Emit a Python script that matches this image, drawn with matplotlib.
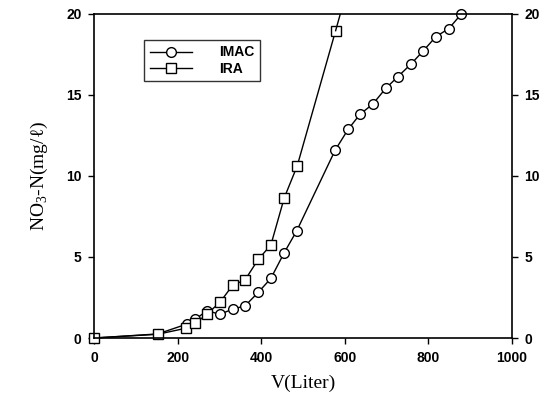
import matplotlib
matplotlib.use('Agg')
import matplotlib.pyplot as plt

# data
v_imac = [0, 152, 222, 242, 270, 301, 332, 361, 393, 423, 455, 485,
          577, 608, 636, 667, 698, 727, 758, 788, 818, 849, 879]
n_imac = [0, 0.25, 0.86, 1.15, 1.69, 1.46, 1.79, 1.98, 2.82, 3.68, 5.27, 6.62,
          11.6, 12.88, 13.8, 14.44, 15.41, 16.13, 16.9, 17.73, 18.6, 19.1, 20.0]

v_ira = [0, 152, 219, 242, 270, 301, 332, 361, 393, 423, 455, 486, 578, 600]
n_ira = [0, 0.23, 0.6, 0.9, 1.48, 2.2, 3.27, 3.58, 4.86, 5.74, 8.65, 10.62, 18.97, 21.0]

xticks = [0, 200, 400, 600, 800, 1000]
yticks = [0, 5, 10, 15, 20]

plt.rcParams['mathtext.fontset'] = 'custom'
plt.rcParams['mathtext.rm'] = 'Liberation Serif'

fig = plt.figure(figsize=(5.54, 4.0), dpi=100)
ax = fig.add_axes([0.170, 0.155, 0.754, 0.810])

mk = dict(color='black', lw=1.0, mfc='white', mec='black', mew=1.0, ms=7, clip_on=False)
ax.plot(v_imac, n_imac, marker='o', label='IMAC', **mk)
ax.plot(v_ira[:-1], n_ira[:-1], marker='s', label='IRA', **mk)
# IRA line keeps going above the frame
ax.plot(v_ira[-2:], n_ira[-2:], color='black', lw=1.0, clip_on=True)

ax.set_xlim(0, 1000)
ax.set_ylim(0, 20)
ax.set_xticks(xticks)
ax.set_yticks(yticks)

ax.tick_params(direction='out', length=4, width=1, top=False, right=True,
               labelright=True, labelsize=10, pad=5)
for lab in ax.get_xticklabels():
    lab.set_fontfamily('Liberation Sans')
    lab.set_fontweight('bold')
for t in ax.yaxis.get_major_ticks():
    for lab in (t.label1, t.label2):
        lab.set_fontfamily('Liberation Sans')
        lab.set_fontweight('bold')

for s in ax.spines.values():
    s.set_linewidth(1.2)

lab_font = ['Liberation Serif', 'DejaVu Serif']
ax.set_xlabel('V(Liter)', fontsize=14, family=lab_font, labelpad=7)
ax.set_ylabel(r'NO$_\mathrm{3}$-N(mg/ℓ)', fontsize=14, family=lab_font, labelpad=12)

leg = ax.legend(loc='upper left', bbox_to_anchor=(0.12, 0.92), frameon=True,
                fancybox=False, edgecolor='black', handlelength=3,
                prop={'family': 'Liberation Sans', 'weight': 'bold', 'size': 10},
                borderpad=0.4, handletextpad=2.0, labelspacing=0.15,
                borderaxespad=0)
leg.get_frame().set_linewidth(1.0)

fig.savefig('out.png', dpi=100)
